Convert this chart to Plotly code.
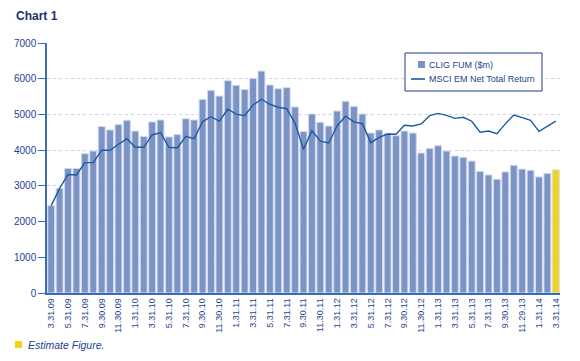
import plotly.graph_objects as go

months = [
    "3.31.09", "4.30.09", "5.31.09", "6.30.09", "7.31.09", "8.31.09", "9.30.09", "10.31.09", "11.30.09", "12.31.09",
    "1.31.10", "2.28.10", "3.31.10", "4.30.10", "5.31.10", "6.30.10", "7.31.10", "8.31.10", "9.30.10", "10.31.10", "11.30.10", "12.31.10",
    "1.31.11", "2.28.11", "3.31.11", "4.30.11", "5.31.11", "6.30.11", "7.31.11", "8.31.11", "9.30.11", "10.31.11", "11.30.11", "12.31.11",
    "1.31.12", "2.29.12", "3.31.12", "4.30.12", "5.31.12", "6.30.12", "7.31.12", "8.31.12", "9.30.12", "10.31.12", "11.30.12", "12.31.12",
    "1.31.13", "2.28.13", "3.31.13", "4.30.13", "5.31.13", "6.30.13", "7.31.13", "8.31.13", "9.30.13", "10.31.13", "11.29.13", "12.31.13",
    "1.31.14", "2.28.14", "3.31.14",
]

fum = [
    2445, 2930, 3490, 3490, 3900, 3975, 4660, 4565, 4715, 4835,
    4535, 4385, 4790, 4845, 4370, 4435, 4880, 4845, 5420, 5675,
    5515, 5945, 5815, 5700, 6010, 6215, 5825, 5720, 5750, 5210,
    4520, 5010, 4780, 4675, 5095, 5370, 5225, 5010, 4480, 4565,
    4470, 4405, 4535, 4480, 3920, 4050, 4125, 3975, 3835, 3800,
    3695, 3405, 3305, 3185, 3390, 3575, 3470, 3435, 3250, 3350,
    3445,
]

msci = [
    2445, 2930, 3320, 3305, 3650, 3650, 3995, 3995, 4165, 4320,
    4080, 4080, 4425, 4490, 4080, 4060, 4385, 4320, 4800, 4935,
    4810, 5145, 5010, 4965, 5265, 5425, 5285, 5200, 5160, 4750,
    4025, 4545, 4250, 4200, 4685, 4950, 4790, 4740, 4210, 4360,
    4450, 4445, 4695, 4675, 4735, 4965, 5030, 4975, 4890, 4920,
    4810, 4500, 4535, 4460, 4735, 4985, 4910, 4835, 4525, 4665,
    4810,
]

tick_labels = [
    "3.31.09", "5.31.09", "7.31.09", "9.30.09", "11.30.09", "1.31.10", "3.31.10", "5.31.10",
    "7.31.10", "9.30.10", "11.30.10", "1.31.11", "3.31.11", "5.31.11", "7.31.11", "9.30.11",
    "11.30.11", "1.31.12", "3.31.12", "5.31.12", "7.31.12", "9.30.12", "11.30.12", "1.31.13",
    "3.31.13", "5.31.13", "7.31.13", "9.30.13", "11.29.13", "1.31.14", "3.31.14",
]

series_names = ["CLIG FUM ($m)", "MSCI EM Net Total Return"]

BAR = "#7b93c5"
EST = "#f5d21a"
NAVY = "#1d3f8f"
LINE = "#1f5aa0"
AXIS = "#3a6db5"
FONT = "Liberation Sans Narrow, Liberation Sans, Arial, sans-serif"

colors = [BAR] * (len(fum) - 1) + [EST]

fig = go.Figure()
fig.add_trace(go.Bar(
    x=months, y=fum, name=series_names[0],
    marker=dict(color=colors, line=dict(color="#d3daef", width=1)),
    width=0.82, showlegend=False,
))
fig.add_trace(go.Scatter(
    x=months, y=msci, name=series_names[1], mode="lines",
    line=dict(color=LINE, width=1.4), showlegend=False,
))


def px(x):
    return (x - 47) / 513


def py(y):
    return (293 - y) / 250


shapes = [
    # legend box
    dict(type="rect", xref="paper", yref="paper", x0=px(405), x1=px(542), y0=py(91), y1=py(53),
         fillcolor="white", line=dict(color=NAVY, width=1)),
    dict(type="rect", xref="paper", yref="paper", x0=px(418), x1=px(425), y0=py(68), y1=py(61),
         fillcolor=BAR, line=dict(width=0)),
    dict(type="line", xref="paper", yref="paper", x0=px(411), x1=px(425), y0=py(79), y1=py(79),
         line=dict(color=LINE, width=1.6)),
    # estimate swatch
    dict(type="rect", xref="paper", yref="paper", x0=px(15), x1=px(22), y0=py(348), y1=py(341),
         fillcolor=EST, line=dict(width=0)),
]

annotations = [
    dict(text="<b>Chart 1</b>", xref="paper", yref="paper",
         x=px(14), y=py(16), xanchor="left", yanchor="middle", showarrow=False,
         font=dict(size=12, color="#1e2f6e", family="Liberation Sans, Arial, sans-serif")),
    dict(text="<i>Estimate Figure.</i>", xref="paper", yref="paper",
         x=px(26), y=py(345), xanchor="left", yanchor="middle", showarrow=False,
         font=dict(size=10.5, color=NAVY, family=FONT)),
    dict(text=series_names[0], xref="paper", yref="paper",
         x=px(427), y=py(65), xanchor="left", yanchor="middle", showarrow=False,
         font=dict(size=9, color=NAVY, family=FONT)),
    dict(text=series_names[1], xref="paper", yref="paper",
         x=px(427), y=py(79), xanchor="left", yanchor="middle", showarrow=False,
         font=dict(size=9, color=NAVY, family=FONT)),
]

# page body has an 8px default margin; size the figure to fit the 580x361 window
fig.update_layout(
    width=572, height=353,
    margin=dict(l=39, r=20, t=35, b=68, autoexpand=False),
    paper_bgcolor="white", plot_bgcolor="white",
    font=dict(family=FONT, color=NAVY, size=10),
    showlegend=False,
    bargap=0.18,
    shapes=shapes,
    annotations=annotations,
)

fig.update_xaxes(
    type="category", categoryorder="array", categoryarray=months,
    tickmode="array", tickvals=tick_labels, ticktext=tick_labels,
    tickangle=-90, tickfont=dict(size=9, color=NAVY, family=FONT),
    showline=True, linecolor=AXIS, linewidth=1.5,
    ticks="", showgrid=False, range=[-0.5, 60.5], automargin=False,
)
fig.update_yaxes(
    range=[0, 7000], tickvals=[0, 1000, 2000, 3000, 4000, 5000, 6000, 7000],
    tickfont=dict(size=10, color=NAVY, family=FONT),
    showline=True, linecolor=AXIS, linewidth=1.5,
    ticks="outside", ticklen=7, tickcolor=AXIS,
    showgrid=True, gridcolor="#cfd1ec", griddash="dot", gridwidth=1,
    zeroline=False, automargin=False,
)

fig.write_html("out.html")
